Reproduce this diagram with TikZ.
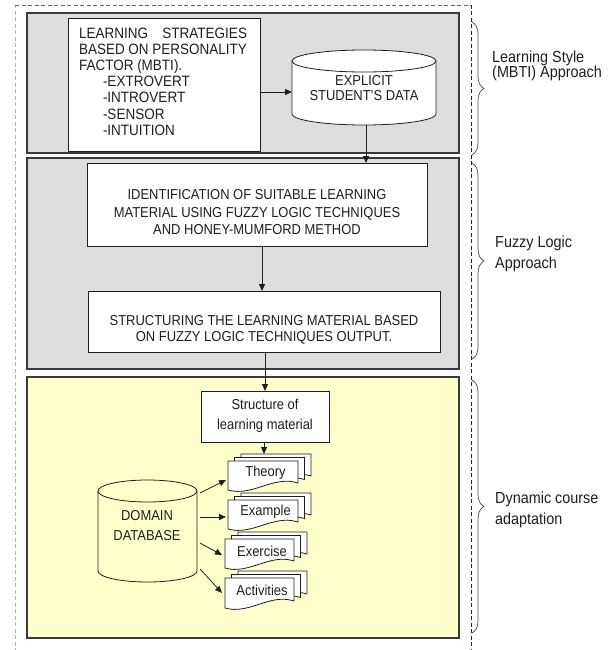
\documentclass[tikz,border=0pt]{standalone}
\usepackage{fontspec}
\setmainfont[FakeStretch=0.9]{Liberation Sans}
\usetikzlibrary{arrows.meta,decorations.pathreplacing,calc}

\definecolor{panelgray}{HTML}{DDDDDD}
\definecolor{panelyellow}{HTML}{FFFFCC}
\definecolor{ink}{HTML}{1E1E1E}
\definecolor{frame}{HTML}{3A3A3A}

\tikzset{
  panel/.style={draw=frame, line width=1.1pt, inner sep=0pt, outer sep=0pt, anchor=north west},
  box/.style={draw=ink, fill=white, line width=0.8pt, inner sep=0pt, outer sep=0pt, anchor=north west},
  txt/.style={text=ink, inner sep=0pt, align=center, font=\fontsize{14.4}{16.5}\selectfont},
  sidetxt/.style={text=ink, inner sep=0pt, align=left, anchor=west, font=\fontsize{16}{21}\selectfont},
  flow/.style={draw=ink, line width=0.8pt, -{Triangle[length=7pt,width=6pt]}},
  edge/.style={draw=ink, line width=0.8pt},
  bracket/.style={draw=ink!80, line width=0.7pt, decorate, decoration={brace, amplitude=12pt}},
  outline/.style={line width=0.8pt, dash pattern=on 4pt off 2.5pt}
}

% cylinder: name, x1, y1, x2, y2, fill colour
\newcommand{\drum}[6]{%
  \pgfmathsetmacro\drx{(#4-#2)/2}%
  \fill[#6] (#2,#3+11) -- (#2,#5-11) arc[start angle=180,end angle=0,x radius=\drx,y radius=11] -- (#4,#3+11) -- cycle;
  \draw[edge] (#2,#3+11) -- (#2,#5-11) arc[start angle=180,end angle=0,x radius=\drx,y radius=11] -- (#4,#3+11);
  \filldraw[edge, fill=#6] ({(#2+#4)/2},#3+11) ellipse [x radius=\drx, y radius=11];
  \node[inner sep=0pt, outer sep=0pt, anchor=north west, minimum width={(#4-#2)*1pt}, minimum height={(#5-#3)*1pt}] (#1) at (#2,#3) {};
}

% one sheet with a wavy lower edge: x, y, w, h
\newcommand{\sheet}[4]{%
  \filldraw[edge, fill=white] (#1,#2) -- (#1+#3,#2) -- (#1+#3,#2+#4-7)
    .. controls (#1+0.65*#3,#2+#4-15) and (#1+0.35*#3,#2+#4+7) .. (#1,#2+#4) -- cycle;
}

% stack of three sheets with a label: name, x, y, w, h, text
\newcommand{\sheets}[6]{%
  \sheet{#2+13}{#3-7}{#4}{#5}
  \sheet{#2+6.5}{#3-3.5}{#4}{#5}
  \sheet{#2}{#3}{#4}{#5}
  \node[inner sep=0pt, outer sep=0pt, anchor=north west, minimum width={#4*1pt}, minimum height={#5*1pt}] (#1) at (#2,#3) {};
  \coordinate (#1top) at (#2+0.5*#4+1,#3-7);
  \node[txt] (#1label) at (#2+0.5*#4+2.5,#3+12) {#6};
}

\begin{document}
\begin{tikzpicture}[x=1pt, y=-1pt]
\useasboundingbox (0,0) rectangle (611,650);
\fill[white] (0,0) rectangle (611,650);

% outer dashed frame, open at the foot
\draw[outline, draw=black!30] (15,652) -- (15,5);
\draw[outline, draw=black!60] (15,5) -- (471,5);
\draw[outline, draw=black!85] (471,5) -- (471,652);

% the three stage panels
\node[panel, fill=panelgray, minimum width=432pt, minimum height=140pt] (stageA) at (27,13) {};
\node[panel, fill=panelgray, minimum width=432pt, minimum height=211pt] (stageB) at (27,158) {};
\node[panel, fill=panelyellow, minimum width=432pt, minimum height=261pt] (stageC) at (27,377) {};

% stage A
\node[box, minimum width=192pt, minimum height=133pt] (strat) at (68,18) {};
\node[txt, align=left, font=\fontsize{15}{16.2}\selectfont] (strattext) at (163,81.5)
  {\makebox[168pt][s]{LEARNING STRATEGIES}\\
   \makebox[168pt][s]{BASED ON PERSONALITY}\\
   FACTOR (MBTI).\\
   \hspace*{24pt}-EXTROVERT\\
   \hspace*{24pt}-INTROVERT\\
   \hspace*{24pt}-SENSOR\\
   \hspace*{24pt}-INTUITION};
\drum{student}{292}{50}{436}{125}{white}
\node[txt, font=\fontsize{14.4}{15}\selectfont] (studenttext) at (364,88) {EXPLICIT\\STUDENT'S DATA};

% stage B
\node[box, minimum width=340pt, minimum height=83pt] (ident) at (87,163) {};
\node[txt, font=\fontsize{14.4}{17.5}\selectfont] (identtext) at (257,212.5)
  {IDENTIFICATION OF SUITABLE LEARNING\\MATERIAL USING FUZZY LOGIC TECHNIQUES\\AND HONEY-MUMFORD METHOD};
\node[box, minimum width=352pt, minimum height=61pt] (struct) at (88,291) {};
\node[txt] (structtext) at (264,330)
  {STRUCTURING THE LEARNING MATERIAL BASED\\ON FUZZY LOGIC TECHNIQUES OUTPUT.};

% stage C
\node[box, minimum width=128pt, minimum height=51pt] (layout) at (201,391) {};
\node[txt, font=\fontsize{14.4}{20.5}\selectfont] (layouttext) at (265,416) {Structure of\\learning material};
\drum{domain}{98}{480}{197}{582}{panelyellow}
\node[txt, font=\fontsize{14.4}{20}\selectfont] (domaintext) at (147,526) {DOMAIN\\DATABASE};

\sheets{theory}{228}{461}{70}{29}{Theory}
\sheets{example}{228}{500}{70}{29}{Example}
\sheets{exercise}{225}{539}{69}{29}{Exercise}
\sheets{activity}{225}{578}{69}{30}{Activities}

% connectors
\draw[flow] (strat.east |- 0,92) -- (student.west |- 0,92);
\draw[flow] (student.south -| 366,0) -- (ident.north -| 366,0);
\draw[flow] (ident.south -| 262,0) -- (struct.north -| 262,0);
\draw[flow] (struct.south -| 265,0) -- (layout.north -| 265,0);
\draw[flow] (layout.south -| 264,0) -- (theorytop -| 264,0);
\draw[flow] ([xshift=3pt,yshift=-13pt]domain.north east) -- ([xshift=-2pt,yshift=-19pt]theory.north west);
\draw[flow] ([xshift=3pt,yshift=-37pt]domain.north east) -- ([xshift=-2pt,yshift=-17pt]example.north west);
\draw[flow] ([xshift=3pt,yshift=-63pt]domain.north east) -- ([xshift=-3pt,yshift=-16pt]exercise.north west);
\draw[flow] ([xshift=3pt,yshift=-89pt]domain.north east) -- ([xshift=-3pt,yshift=-15pt]activity.north west);

% braces and stage captions
\draw[bracket] (472,22) -- (472,155);
\draw[bracket] (472,163) -- (472,359);
\draw[bracket] (472,380) -- (472,633);
\node[sidetxt, font=\fontsize{16}{15}\selectfont] (capA) at (492,65.5) {Learning Style\\(MBTI) Approach};
\node[sidetxt] (capB) at (495,254) {Fuzzy Logic\\Approach};
\node[sidetxt] (capC) at (495,510) {Dynamic course\\adaptation};
\end{tikzpicture}
\end{document}
